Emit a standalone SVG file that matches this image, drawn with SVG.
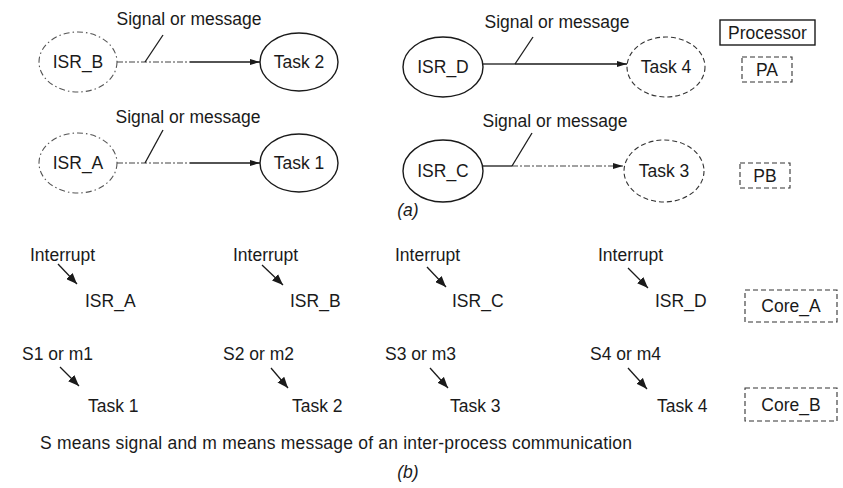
<svg xmlns="http://www.w3.org/2000/svg" width="843" height="488" viewBox="0 0 843 488">
<style>
text{font-family:"Liberation Sans",Arial,sans-serif;font-size:17.5px;fill:#1a1a1a}
.c{text-anchor:middle}
.solid{fill:none;stroke:#1a1a1a;stroke-width:1.4}
.dashdot{fill:none;stroke:#555;stroke-width:1.1;stroke-dasharray:6 3 1.5 3}
.dashed{fill:none;stroke:#333;stroke-width:1.1;stroke-dasharray:5 3}
.ln{fill:none;stroke:#1a1a1a;stroke-width:1.3}
.dl{fill:none;stroke:#444;stroke-width:1.2;stroke-dasharray:6 2 2 2}
</style>
<defs>
<marker id="ah" viewBox="0 0 10 6" refX="10" refY="3" markerWidth="10" markerHeight="6" markerUnits="userSpaceOnUse" orient="auto">
<path d="M0,0 L10,3 L0,6 z" fill="#1a1a1a"/>
</marker>
<marker id="ah2" viewBox="0 0 10 8" refX="10" refY="4" markerWidth="11" markerHeight="9" markerUnits="userSpaceOnUse" orient="auto">
<path d="M0,0 L10,4 L0,8 z" fill="#1a1a1a"/>
</marker>
</defs>

<!-- Part (a) nodes -->
<g id="isr_b"><ellipse cx="78" cy="62" rx="39" ry="30" class="dashdot"/><text x="78" y="68" class="c">ISR_B</text></g>
<g id="task2"><ellipse cx="299" cy="62" rx="39" ry="29" class="solid"/><text x="299" y="68" class="c">Task 2</text></g>
<g id="isr_a"><ellipse cx="78" cy="163" rx="39" ry="30" class="dashdot"/><text x="78" y="169" class="c">ISR_A</text></g>
<g id="task1"><ellipse cx="299" cy="163" rx="39" ry="29" class="solid"/><text x="299" y="169" class="c">Task 1</text></g>
<g id="isr_d"><ellipse cx="443" cy="67" rx="40" ry="30" class="solid"/><text x="443" y="73" class="c">ISR_D</text></g>
<g id="task4"><ellipse cx="666" cy="67" rx="39" ry="30" class="dashed"/><text x="666" y="73" class="c">Task 4</text></g>
<g id="isr_c"><ellipse cx="443" cy="171" rx="40" ry="31" class="solid"/><text x="443" y="177" class="c">ISR_C</text></g>
<g id="task3"><ellipse cx="664" cy="171" rx="40" ry="31" class="dashed"/><text x="664" y="177" class="c">Task 3</text></g>
<g id="processor"><rect x="720" y="20" width="95" height="25" class="solid"/><text x="767.5" y="38.5" class="c">Processor</text></g>
<g id="pa"><rect x="742" y="57" width="50" height="25" class="dashed"/><text x="767" y="75.5" class="c">PA</text></g>
<g id="pb"><rect x="740" y="163" width="50" height="25" class="dashed"/><text x="765" y="181.5" class="c">PB</text></g>

<!-- connectors -->
<g id="connectors">
<path d="M117,62 H190" class="dl"/>
<path d="M190,62 H260" class="ln" marker-end="url(#ah)"/>
<path d="M145,62 L163,35" class="ln"/>
<path d="M117,163 H190" class="dl"/>
<path d="M190,163 H260" class="ln" marker-end="url(#ah)"/>
<path d="M145,163 L163,130" class="ln"/>
<path d="M483,64 H515" class="ln"/>
<path d="M515,64 H627" class="ln" stroke-width="1" marker-end="url(#ah)"/>
<path d="M515,64 L533,37" class="ln"/>
<path d="M483,166 H512" class="ln"/>
<path d="M512,166 H623" class="dl" marker-end="url(#ah)"/>
<path d="M512,166 L532,133" class="ln"/>

<path d="M58,264 L77,284" class="ln" marker-end="url(#ah2)"/>
<path d="M262,265 L283,285" class="ln" marker-end="url(#ah2)"/>
<path d="M427,267 L446,287" class="ln" marker-end="url(#ah2)"/>
<path d="M628,268 L648,288" class="ln" marker-end="url(#ah2)"/>
<path d="M60,367 L79,386" class="ln" marker-end="url(#ah2)"/>
<path d="M271,368 L288,388" class="ln" marker-end="url(#ah2)"/>
<path d="M430,368 L448,388" class="ln" marker-end="url(#ah2)"/>
<path d="M628,368 L647,389" class="ln" marker-end="url(#ah2)"/>
</g>

<g id="labels-a">
<text x="189" y="25" class="c">Signal or message</text>
<text x="188" y="123" class="c">Signal or message</text>
<text x="557" y="28" class="c">Signal or message</text>
<text x="555" y="127" class="c">Signal or message</text>
<text x="408" y="216" class="c" font-style="italic">(a)</text>
</g>

<!-- Part (b) -->
<g id="isr_a_b"><text x="30" y="261">Interrupt</text><text x="85" y="307">ISR_A</text></g>
<g id="isr_b_b"><text x="233" y="261">Interrupt</text><text x="290" y="307">ISR_B</text></g>
<g id="isr_c_b"><text x="395" y="261">Interrupt</text><text x="452" y="307">ISR_C</text></g>
<g id="isr_d_b"><text x="598" y="261">Interrupt</text><text x="655" y="307">ISR_D</text></g>
<g id="task1_b"><text x="22" y="360">S1 or m1</text><text x="88" y="412">Task 1</text></g>
<g id="task2_b"><text x="223" y="360">S2 or m2</text><text x="292" y="412">Task 2</text></g>
<g id="task3_b"><text x="385" y="360">S3 or m3</text><text x="450" y="412">Task 3</text></g>
<g id="task4_b"><text x="590" y="360">S4 or m4</text><text x="657" y="412">Task 4</text></g>
<g id="core_a"><rect x="745" y="290" width="92" height="32" class="dashed"/><text x="791" y="312" class="c">Core_A</text></g>
<g id="core_b"><rect x="745" y="388" width="92" height="33" class="dashed"/><text x="791" y="411" class="c">Core_B</text></g>
<g id="caption">
<text x="40" y="449" textLength="592" lengthAdjust="spacing" font-size="16.5">S means signal and m means message of an inter-process communication</text>
<text x="408" y="478" class="c" font-style="italic">(b)</text>
</g>
</svg>
